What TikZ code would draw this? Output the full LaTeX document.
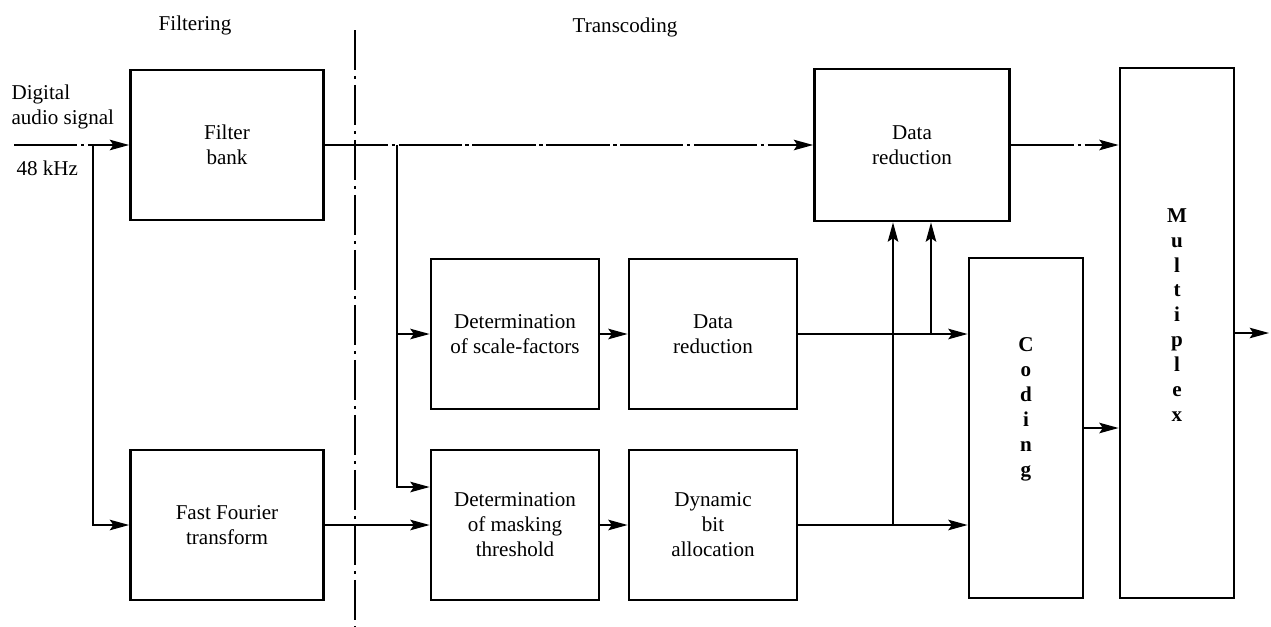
\documentclass[tikz,border=0pt]{standalone}
\usepackage{fontspec}
\setmainfont{Liberation Serif}
\usetikzlibrary{arrows.meta}

\begin{document}
\begin{tikzpicture}[x=0.02cm,y=-0.02cm,line width=0.8pt,
    >={Stealth[length=11pt,width=6pt,inset=2pt]},
    txt/.style={font=\fontsize{12}{14.2}\selectfont},
    blk/.style={txt,draw,line width=1.6pt,align=center,inner sep=2pt},
    stack/.style={align=center,font=\fontsize{12}{14.2}\selectfont\bfseries},
    sig/.style={dash pattern=on 36pt off 2pt on 2pt off 2pt}]
    \useasboundingbox (0,0) rectangle (1271,626);

    % section titles and the boundary between them
    \node[txt] (filtering) at (195,25) {Filtering};
    \node[txt] (transcoding) at (625,27) {Transcoding};
    \coordinate (septop) at (355,30);
    \coordinate (sepbot) at (355,626);
    \draw[line width=1.2pt,dash pattern=on 0.8cm off 0.12cm on 0.06cm off 0.12cm]
        (septop) -- (sepbot);

    % input
    \node[txt,align=left,anchor=west] (signal) at (5,107) {Digital\\audio signal};
    \node[txt,anchor=west] (rate) at (10,168) {48 kHz};

    % blocks
    \node[blk,minimum width=3.86cm,minimum height=3cm] (filt) at (227,145) {Filter\\bank};
    \node[blk,minimum width=3.86cm,minimum height=3cm] (fft) at (227,525) {Fast Fourier\\transform};
    \node[blk,minimum width=3.36cm,minimum height=3cm] (scale) at (515,334) {Determination\\of scale-factors};
    \node[blk,minimum width=3.36cm,minimum height=3cm] (mask) at (515,525) {Determination\\of masking\\threshold};
    \node[blk,minimum width=3.36cm,minimum height=3cm] (red) at (713,334) {Data\\reduction};
    \node[blk,minimum width=3.36cm,minimum height=3cm] (dyn) at (713,525) {Dynamic\\bit\\allocation};
    \node[blk,minimum width=3.9cm,minimum height=3.04cm] (redtop) at (912,145) {Data\\reduction};
    \node[blk,minimum width=2.28cm,minimum height=6.8cm,
        label={[stack,yshift=0.38cm]center:C\\o\\d\\i\\n\\g}] (cod) at (1026,428) {};
    \node[blk,minimum width=2.28cm,minimum height=10.6cm,
        label={[stack,yshift=0.36cm]center:M\\u\\l\\t\\i\\p\\l\\e\\x}] (mux) at (1177,333) {};

    % connections
    \coordinate (in) at (14,145);
    \coordinate (tap1) at (93,145);
    \coordinate (tap2) at (397,145);
    \coordinate (out) at (1269,333);
    \draw[sig,->] (in) -- (filt.west);
    \draw[->] (tap1) |- (fft);
    \draw[sig,->] (filt.east) -- (redtop.west);
    \draw[->] (tap2) |- (scale);
    \draw[->] (tap2) |- ([yshift=0.76cm]mask.west);
    \draw[->] (fft) -- (mask);
    \draw[->] (scale) -- (red);
    \draw[->] (mask) -- (dyn);
    \draw[->] (red.east) -- (red.east -| cod.west);
    \draw[->] (dyn.east) -- (dyn.east -| cod.west);
    \draw[->] ([xshift=-0.38cm]redtop.south |- dyn.east) -- ([xshift=-0.38cm]redtop.south);
    \draw[->] ([xshift=0.38cm]redtop.south |- red.east) -- ([xshift=0.38cm]redtop.south);
    \draw[sig,->] (redtop.east) -- (redtop.east -| mux.west);
    \draw[->] (cod.east) -- (cod.east -| mux.west);
    \draw[->] (mux.east) -- (out);
\end{tikzpicture}
\end{document}
